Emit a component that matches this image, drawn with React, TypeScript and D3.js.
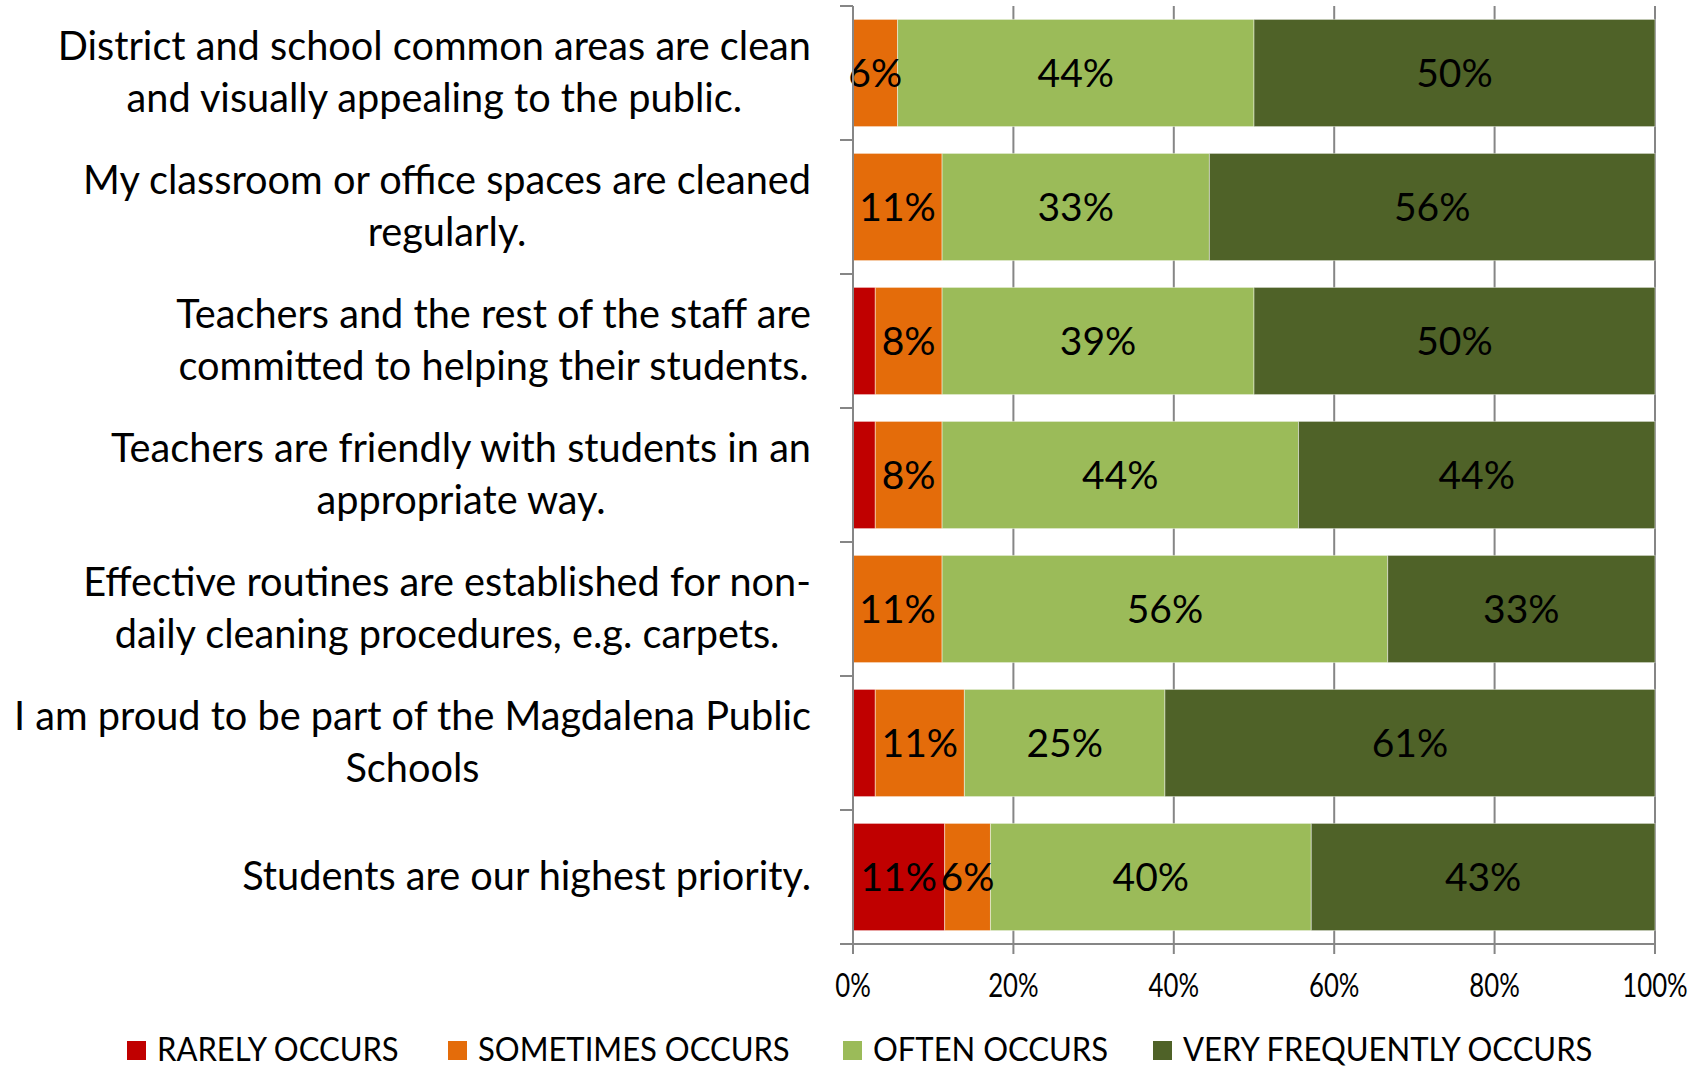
import React, { useEffect, useRef } from "react";
import * as d3 from "d3";

const categories = [
  "District and school common areas are clean\nand visually appealing to the public.",
  "My classroom or office spaces are cleaned\nregularly.",
  "Teachers and the rest of the staff are\ncommitted to helping their students.",
  "Teachers are friendly with students in an\nappropriate way.",
  "Effective routines are established for non-\ndaily cleaning procedures, e.g. carpets.",
  "I am proud to be part of the Magdalena Public\nSchools",
  "Students are our highest priority.",
];

const seriesNames = ["RARELY OCCURS", "SOMETIMES OCCURS", "OFTEN OCCURS", "VERY FREQUENTLY OCCURS"];
const rarely = [0, 0, 2.78, 2.78, 0, 2.78, 11.43];
const sometimes = [5.56, 11.11, 8.33, 8.33, 11.11, 11.11, 5.71];
const often = [44.44, 33.33, 38.89, 44.44, 55.56, 25.0, 40.0];
const veryFrequently = [50.0, 55.56, 50.0, 44.44, 33.33, 61.11, 42.86];
const showLabel = [
  [false, false, false, false, false, false, true],
  [true, true, true, true, true, true, true],
  [true, true, true, true, true, true, true],
  [true, true, true, true, true, true, true],
];
const xTicks = [0, 20, 40, 60, 80, 100];
const colors = ["#C00000", "#E46C0A", "#9BBB59", "#4F6228"];

const W = 1701;
const H = 1067;

export default function App() {
  const ref = useRef<SVGSVGElement | null>(null);

  useEffect(() => {
    const svg = d3.select(ref.current);
    svg.selectAll("*").remove();
    const font = "Lato, 'Open Sans', sans-serif";
    const gray = "#868686";

    const x = d3.scaleLinear().domain([0, 100]).range([853, 1655]);
    const y = d3.scaleBand<number>().domain(d3.range(categories.length)).range([6, 944]).paddingInner(0.2).paddingOuter(0.1);
    const step = y.step();
    const top = 6;
    const bottom = 944;

    const series = [rarely, sometimes, often, veryFrequently];

    // gridlines
    svg.append("g").selectAll("line").data(xTicks.filter((t) => t > 0)).join("line")
      .attr("x1", (d) => x(d)).attr("x2", (d) => x(d))
      .attr("y1", top).attr("y2", bottom)
      .attr("stroke", gray).attr("stroke-width", 2);

    // bars
    const barG = svg.append("g");
    categories.forEach((_, i) => {
      let acc = 0;
      series.forEach((s, k) => {
        const v = s[i];
        const x0 = acc;
        acc += v;
        if (v <= 0) return;
        barG.append("rect")
          .attr("x", x(x0)).attr("width", x(x0 + v) - x(x0))
          .attr("y", y(i)!).attr("height", y.bandwidth())
          .attr("fill", colors[k])
          .attr("stroke", "rgba(255,255,255,0.45)").attr("stroke-width", 1);
      });
    });

    // data labels
    const labG = svg.append("g");
    categories.forEach((_, i) => {
      let acc = 0;
      series.forEach((s, k) => {
        const v = s[i];
        const x0 = acc;
        acc += v;
        if (v <= 0 || !showLabel[k][i]) return;
        labG.append("text")
          .attr("x", x(x0 + v / 2)).attr("y", y(i)! + y.bandwidth() / 2 - 1)
          .attr("text-anchor", "middle").attr("dominant-baseline", "central")
          .attr("font-family", font).attr("font-size", 39).attr("fill", "#000")
          .text(`${Math.round(v)}%`);
      });
    });

    // y axis
    svg.append("line").attr("x1", 853).attr("x2", 853).attr("y1", top).attr("y2", bottom + 10)
      .attr("stroke", gray).attr("stroke-width", 2);
    svg.append("g").selectAll("line").data(d3.range(categories.length + 1)).join("line")
      .attr("x1", 840).attr("x2", 853)
      .attr("y1", (d) => top + d * step).attr("y2", (d) => top + d * step)
      .attr("stroke", gray).attr("stroke-width", 2);

    // x axis
    svg.append("line").attr("x1", 840).attr("x2", 1656).attr("y1", bottom).attr("y2", bottom)
      .attr("stroke", gray).attr("stroke-width", 2);
    svg.append("g").selectAll("line").data(xTicks).join("line")
      .attr("x1", (d) => x(d)).attr("x2", (d) => x(d))
      .attr("y1", bottom).attr("y2", bottom + 10)
      .attr("stroke", gray).attr("stroke-width", 2);
    svg.append("g").selectAll("text").data(xTicks).join("text")
      .attr("transform", (d) => `translate(${x(d)},984) scale(0.78,1)`)
      .attr("text-anchor", "middle").attr("dominant-baseline", "central")
      .attr("font-family", font).attr("font-size", 33).attr("fill", "#000")
      .text((d) => `${d}%`);

    // category labels
    const catG = svg.append("g");
    categories.forEach((c, i) => {
      const lines = c.split("\n");
      const cy = y(i)! + y.bandwidth() / 2 - 3;
      const lh = 52;
      const texts = lines.map((ln, j) =>
        catG.append("text")
          .attr("y", cy + (j - (lines.length - 1) / 2) * lh)
          .attr("text-anchor", "middle").attr("dominant-baseline", "central")
          .attr("font-family", font).attr("font-size", 39.7).attr("fill", "#000")
          .text(ln)
      );
      const widths = texts.map((t) => (t.node() as SVGTextElement).getComputedTextLength());
      const maxW = d3.max(widths) || 0;
      texts.forEach((t) => t.attr("x", 811 - maxW / 2));
    });

    // legend
    const legendX = [127, 448, 843, 1153];
    const lg = svg.append("g");
    seriesNames.forEach((n, k) => {
      lg.append("rect").attr("x", legendX[k]).attr("y", 1041).attr("width", 19).attr("height", 19)
        .attr("fill", colors[k]);
      lg.append("text")
        .attr("transform", `translate(${legendX[k] + 30},1048) scale(0.94,1)`)
        .attr("dominant-baseline", "central")
        .attr("font-family", font).attr("font-size", 33).attr("fill", "#000")
        .text(n);
    });
  }, []);

  return (
    <svg ref={ref} width={W} height={H} style={{ position: "absolute", left: 0, top: 0, background: "#fff" }} />
  );
}
